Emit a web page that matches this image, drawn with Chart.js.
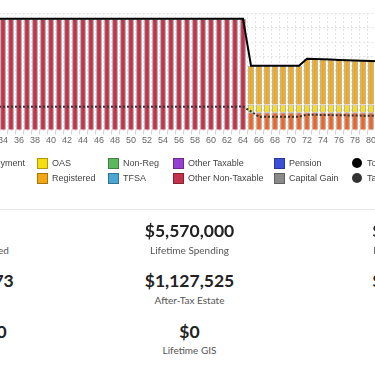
<!DOCTYPE html>
<html><head><meta charset="utf-8">
<script src="https://cdn.jsdelivr.net/npm/chart.js@4.4.1/dist/chart.umd.min.js"></script>
<style>
html,body{margin:0;padding:0;background:#fff;}
body{width:375px;height:366px;overflow:hidden;position:relative;}
#chartWrap{position:absolute;left:-9px;top:0;width:392px;height:147px;}
#legend{position:absolute;left:0;top:0;width:375px;height:200px;font:9px "Liberation Sans",Arial,sans-serif;color:#444;}
.lt{position:absolute;white-space:nowrap;line-height:11px;}
.sw{position:absolute;width:11px;height:11px;box-sizing:border-box;border:1px solid rgba(0,0,0,0.3);}
.dot{position:absolute;width:10px;height:10px;border-radius:50%;}
.rule{position:absolute;left:0;top:209px;width:375px;height:1px;background:#e8e8e8;}
.num{position:absolute;font:700 17.5px Lato,sans-serif;color:#222;white-space:nowrap;line-height:20px;transform:translateX(-50%);}
.lab{position:absolute;font:400 10px Lato,sans-serif;color:#555;white-space:nowrap;line-height:13px;transform:translateX(-50%);}
</style></head>
<body>
<div id="chartWrap"><canvas id="c"></canvas></div>
<div id="legend"></div>
<div class="rule"></div>
<div id="stats"></div>
<script>
const ages = [33,34,35,36,37,38,39,40,41,42,43,44,45,46,47,48,49,50,51,52,53,54,55,56,57,58,59,60,61,62,63,64,65,66,67,68,69,70,71,72,73,74,75,76,77,78,79,80,81];

const otherNonTaxable = [190000,190000,190000,190000,190000,190000,190000,190000,190000,190000,190000,190000,190000,190000,190000,190000,190000,190000,190000,190000,190000,190000,190000,190000,190000,190000,190000,190000,190000,190000,190000,190000,0,0,0,0,0,0,0,0,0,0,0,0,0,0,0,0,0];
const cpp = [0,0,0,0,0,0,0,0,0,0,0,0,0,0,0,0,0,0,0,0,0,0,0,0,0,0,0,0,0,0,0,0,30500,30500,30500,30500,30500,30500,30500,30500,30500,30500,30500,30500,30500,30500,30500,30500,30500];
const oas = [0,0,0,0,0,0,0,0,0,0,0,0,0,0,0,0,0,0,0,0,0,0,0,0,0,0,0,0,0,0,0,0,13500,13500,13500,13500,13500,13500,13500,13500,13500,13500,13500,13500,13500,13500,13500,13500,13500];
const registered = [0,0,0,0,0,0,0,0,0,0,0,0,0,0,0,0,0,0,0,0,0,0,0,0,0,0,0,0,0,0,0,0,66000,66000,66000,66000,66000,66000,66000,78000,77500,77000,76500,76000,75500,75000,74500,74000,73500];
const totalSpending = [190000,190000,190000,190000,190000,190000,190000,190000,190000,190000,190000,190000,190000,190000,190000,190000,190000,190000,190000,190000,190000,190000,190000,190000,190000,190000,190000,190000,190000,190000,190000,190000,110000,110000,110000,110000,110000,110000,110000,122000,121500,121000,120500,120000,119500,119000,118500,118000,117500];
const taxes = [40000,40000,40000,40000,40000,40000,40000,40000,40000,40000,40000,40000,40000,40000,40000,40000,40000,40000,40000,40000,40000,40000,40000,40000,40000,40000,40000,40000,40000,40000,40000,40500,32000,23000,23000,23000,23000,23000,23000,26500,26300,26000,25800,25500,25300,25000,24800,24600,24400];

const statValues = [["100%","$1,642,373","$143,690"],["$5,570,000","$1,127,525","$0"],["$2,841,120","$1,482,903","$0"]];
const statLabels = [["Spending Covered","Lifetime Tax","Lifetime CPP"],["Lifetime Spending","After-Tax Estate","Lifetime GIS"],["Lifetime Income Tax","Lifetime RRIF","Lifetime OAS"]];

const barBorder = '#a0a0a0';
function bar(label, data, color){
  return {type:'bar', label, data, backgroundColor:color, borderColor:barBorder, borderWidth:1, order:1};
}
const datasets = [
  bar('Employment', [], '#1f8f80'),
  bar('CPP', cpp, '#ec6428'),
  bar('OAS', oas, '#f6dd0c'),
  bar('Registered', registered, '#f3a712'),
  bar('Non-Reg', [], '#5cb85c'),
  bar('TFSA', [], '#4ba6d3'),
  bar('Other Taxable', [], '#9440d0'),
  bar('Other Non-Taxable', otherNonTaxable, '#c4314b'),
  bar('Pension', [], '#3b4fd8'),
  bar('Capital Gain', [], '#8a8a8a'),
  {type:'line', label:'Total Spending', data:totalSpending, borderColor:'#000', backgroundColor:'#000', borderWidth:2, pointRadius:0, tension:0, stack:'tot', order:0},
  {type:'line', label:'Taxes', data:taxes, borderColor:'#333', backgroundColor:'#333', borderWidth:2, borderDash:[2,2], pointRadius:0, tension:0, stack:'tax', order:0}
];

const chart = new Chart(document.getElementById('c'), {
  type:'bar',
  data:{labels:ages, datasets},
  options:{
    responsive:true, maintainAspectRatio:false, animation:false,
    layout:{padding:{top:13,left:0,right:0,bottom:0}},
    plugins:{legend:{display:false}, tooltip:{enabled:false}},
    scales:{
      x:{stacked:true,
        grid:{color:'#e2e2e2', tickLength:4, tickColor:'#d0d0d0'},
        border:{display:false, dash:[2,2]},
        ticks:{autoSkip:false, maxRotation:0, padding:1, color:'#666',
          font:{family:'"Liberation Sans", Arial, sans-serif', size:9},
          callback:function(v){const a=ages[v]; return a%2===0? String(a):'';}}
      },
      y:{stacked:true, min:0, max:200000,
        ticks:{display:false, stepSize:25000},
        grid:{color:'#e6e6e6', drawTicks:false},
        border:{display:false, dash:[2,2]}
      }
    }
  }
});

// HTML legend built from the datasets
const colX = [-40,37,108,173,274,352];
const rowY = [157.5,172.5];
const lg = document.getElementById('legend');
datasets.forEach((ds,i)=>{
  const col = Math.floor(i/2), row = i%2;
  const x = colX[col], y = rowY[row];
  const s = document.createElement('div');
  if(ds.type==='line'){ s.className='dot'; s.style.left=x+'px'; s.style.top=(y+0.5)+'px'; s.style.background=ds.borderColor; }
  else { s.className='sw'; s.style.left=x+'px'; s.style.top=y+'px'; s.style.background=ds.backgroundColor; }
  lg.appendChild(s);
  const t = document.createElement('div');
  t.className='lt'; t.textContent=ds.label; t.style.left=(x+15)+'px'; t.style.top=y+'px';
  lg.appendChild(t);
});

// stats
const colC = [-31,189.5,417];
const numTop = [221,271,321.5];
const labTop = [243.5,293.5,344];
const st = document.getElementById('stats');
for(let c=0;c<3;c++){
  for(let r=0;r<3;r++){
    const n=document.createElement('div'); n.className='num'; n.textContent=statValues[c][r];
    n.style.left=colC[c]+'px'; n.style.top=numTop[r]+'px'; st.appendChild(n);
    const l=document.createElement('div'); l.className='lab'; l.textContent=statLabels[c][r];
    l.style.left=colC[c]+'px'; l.style.top=labTop[r]+'px'; st.appendChild(l);
  }
}
</script>
</body></html>
